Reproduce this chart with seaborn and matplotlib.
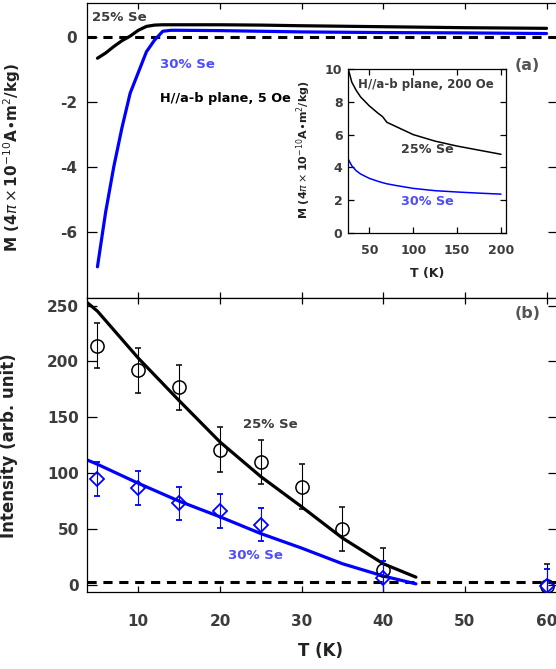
import numpy as np
import pandas as pd
import seaborn as sns
import matplotlib.pyplot as plt

sns.set_theme(style='ticks')
plt.rcParams['font.family'] = ['DejaVu Sans']
plt.rcParams['mathtext.fontset'] = 'dejavusans'
plt.rcParams['axes.unicode_minus'] = False

# (a) main panel, 5 Oe
t_a = [5, 6, 7, 8, 9, 10, 11, 12, 13, 14, 15, 20, 25, 30, 40, 50, 60]
m25_a = [-0.66, -0.5, -0.3, -0.12, 0.02, 0.2, 0.32, 0.36, 0.37, 0.37, 0.37, 0.37, 0.36, 0.34, 0.31, 0.28, 0.26]
m30_a = [-7.08, -5.4, -4.0, -2.8, -1.74, -1.1, -0.46, -0.1, 0.17, 0.2, 0.2, 0.19, 0.17, 0.15, 0.13, 0.12, 0.1]

# (a) inset, 200 Oe
t_in = [26, 30, 35, 40, 50, 60, 65, 70, 80, 100, 125, 150, 175, 200]
m25_in = [10.0, 9.2, 8.7, 8.3, 7.75, 7.3, 7.1, 6.75, 6.5, 6.0, 5.6, 5.3, 5.05, 4.8]
m30_in = [4.5, 4.1, 3.8, 3.6, 3.33, 3.15, 3.07, 3.0, 2.9, 2.72, 2.58, 2.5, 2.43, 2.37]

# (b) intensity data
t25_b = [5, 10, 15, 20, 25, 30, 35, 40, 60]
i25_b = [214, 192, 177, 121, 110, 88, 50, 13, -1]
e25_b = [20, 20, 20, 20, 20, 20, 20, 20, 20]
t30_b = [5, 10, 15, 20, 25, 40, 60]
i30_b = [95, 87, 73, 66, 54, 6, -1]
e30_b = [15, 15, 15, 15, 15, 15, 15]

# (b) fit curves
t_fit = [3.7, 5, 10, 15, 20, 25, 30, 35, 40, 44]
fit25 = [253, 245, 203, 165, 128, 97, 70, 42, 19, 7]
fit30 = [112, 108, 91, 75, 61, 46, 33, 19, 8, 1]

BLUE = '#0000ff'
LBLUE = '#4d4dff'
GRAY = '#3c3c3c'
ylab = r'M (4$\pi\times$10$^{-10}$A$\bullet$m$^{2}$/kg)'

fig = plt.figure(figsize=(5.56, 6.69), dpi=100)
ax1 = fig.add_axes([87/556, 371/669, 471/556, 295/669])
ax2 = fig.add_axes([87/556, 77/669, 471/556, 294/669])
axi = fig.add_axes([348/556, 436/669, 158/556, 164/669])

for ax in (ax1, ax2, axi):
    for s in ax.spines.values():
        s.set_linewidth(0.9)
        s.set_color('black')
    ax.tick_params(direction='in', top=True, right=True, width=0.9, colors='black',
                   labelcolor=GRAY)

# ---- panel (a)
da = pd.DataFrame({'T': t_a, 'm25': m25_a, 'm30': m30_a})
ax1.axhline(0, color='black', lw=2.2, ls=(0, (3, 2.2)), zorder=1)
sns.lineplot(data=da, x='T', y='m25', ax=ax1, color='black', lw=2.3, estimator=None)
sns.lineplot(data=da, x='T', y='m30', ax=ax1, color=BLUE, lw=2.3, estimator=None)
ax1.set_xlim(3.72, 61.4)
ax1.set_ylim(-8.04, 1.04)
ax1.set_xticks([10, 20, 30, 40, 50, 60])
ax1.set_yticks([-6, -4, -2, 0])
ax1.tick_params(axis='x', length=4.5, labelbottom=False)
ax1.tick_params(axis='y', length=7, labelsize=11, pad=7)
for lab in ax1.get_yticklabels():
    lab.set_fontweight('bold')
ax1.set_xlabel('')
ax1.set_ylabel(ylab, fontsize=11, fontweight='bold', color='#222222')
ax1.yaxis.set_label_coords(-0.135, 0.475)
ax1.text(4.3, 0.58, '25% Se', fontsize=9.5, fontweight='bold', color=GRAY, va='center')
ax1.text(12.65, -0.84, '30% Se', fontsize=9.5, fontweight='bold', color=LBLUE, va='center')
ax1.text(12.65, -1.9, 'H//a-b plane, 5 Oe', fontsize=9.3, fontweight='bold', color='black', va='center')
ax1.text(59.2, -0.87, '(a)', fontsize=11.5, fontweight='bold', color='#555555', va='center', ha='right')

# ---- inset
di = pd.DataFrame({'T': t_in, 'm25': m25_in, 'm30': m30_in})
sns.lineplot(data=di, x='T', y='m25', ax=axi, color='black', lw=1.1, estimator=None)
sns.lineplot(data=di, x='T', y='m30', ax=axi, color=BLUE, lw=1.1, estimator=None)
axi.set_xlim(25.7, 205.7)
axi.set_ylim(0, 10)
axi.set_xticks([50, 100, 150, 200])
axi.set_yticks([0, 2, 4, 6, 8, 10])
axi.tick_params(length=4, labelsize=9, pad=4)
axi.tick_params(axis='x', pad=8)
for lab in axi.get_xticklabels() + axi.get_yticklabels():
    lab.set_fontweight('bold')
axi.set_xlabel('T (K)', fontsize=9, fontweight='bold', color='#222222')
axi.xaxis.set_label_coords(0.5, -0.21)
axi.set_ylabel(ylab, fontsize=8, fontweight='bold', color='#222222')
axi.yaxis.set_label_coords(-0.22, 0.51)
axi.text(37, 9.03, 'H//a-b plane, 200 Oe', fontsize=8.5, fontweight='bold', color=GRAY, va='center')
axi.text(85.7, 5.1, '25% Se', fontsize=9.2, fontweight='bold', color=GRAY, va='center')
axi.text(85.7, 1.9, '30% Se', fontsize=9.2, fontweight='bold', color=LBLUE, va='center')

# ---- panel (b)
df = pd.DataFrame({'T': t_fit, 'f25': fit25, 'f30': fit30})
ax2.axhline(2.5, color='black', lw=2.2, ls=(0, (3, 2.2)), zorder=1)
sns.lineplot(data=df, x='T', y='f25', ax=ax2, color='black', lw=2.3, estimator=None)
sns.lineplot(data=df, x='T', y='f30', ax=ax2, color=BLUE, lw=2.3, estimator=None)
ax2.errorbar(t25_b, i25_b, yerr=e25_b, fmt='o', mfc='none', mec='black', ms=9.5, mew=1.1,
             ecolor='black', elinewidth=0.8, capsize=2.5, capthick=0.8, zorder=3)
ax2.errorbar(t30_b, i30_b, yerr=e30_b, fmt='D', mfc='none', mec=BLUE, ms=7.5, mew=1.3,
             ecolor=BLUE, elinewidth=0.8, capsize=2.5, capthick=0.8, zorder=4)
ax2.set_xlim(3.72, 61.4)
ax2.set_ylim(-6.3, 256.8)
ax2.set_xticks([10, 20, 30, 40, 50, 60])
ax2.set_yticks([0, 50, 100, 150, 200, 250])
ax2.tick_params(axis='x', length=4.5, labelsize=11, pad=16)
ax2.tick_params(axis='y', length=7, labelsize=11, pad=6)
for lab in ax2.get_xticklabels() + ax2.get_yticklabels():
    lab.set_fontweight('bold')
ax2.set_xlabel('T (K)', fontsize=12, fontweight='bold', color='#222222')
ax2.xaxis.set_label_coords(0.495, -0.17)
ax2.set_ylabel('Intensity (arb. unit)', fontsize=12, fontweight='bold', color='#222222')
ax2.yaxis.set_label_coords(-0.146, 0.497)
ax2.text(22.8, 143.7, '25% Se', fontsize=9.5, fontweight='bold', color=GRAY, va='center')
ax2.text(21.0, 26.8, '30% Se', fontsize=9.5, fontweight='bold', color=LBLUE, va='center')
ax2.text(59.3, 243.3, '(b)', fontsize=11.5, fontweight='bold', color='#555555', va='center', ha='right')

plt.savefig('out.png', dpi=100)
